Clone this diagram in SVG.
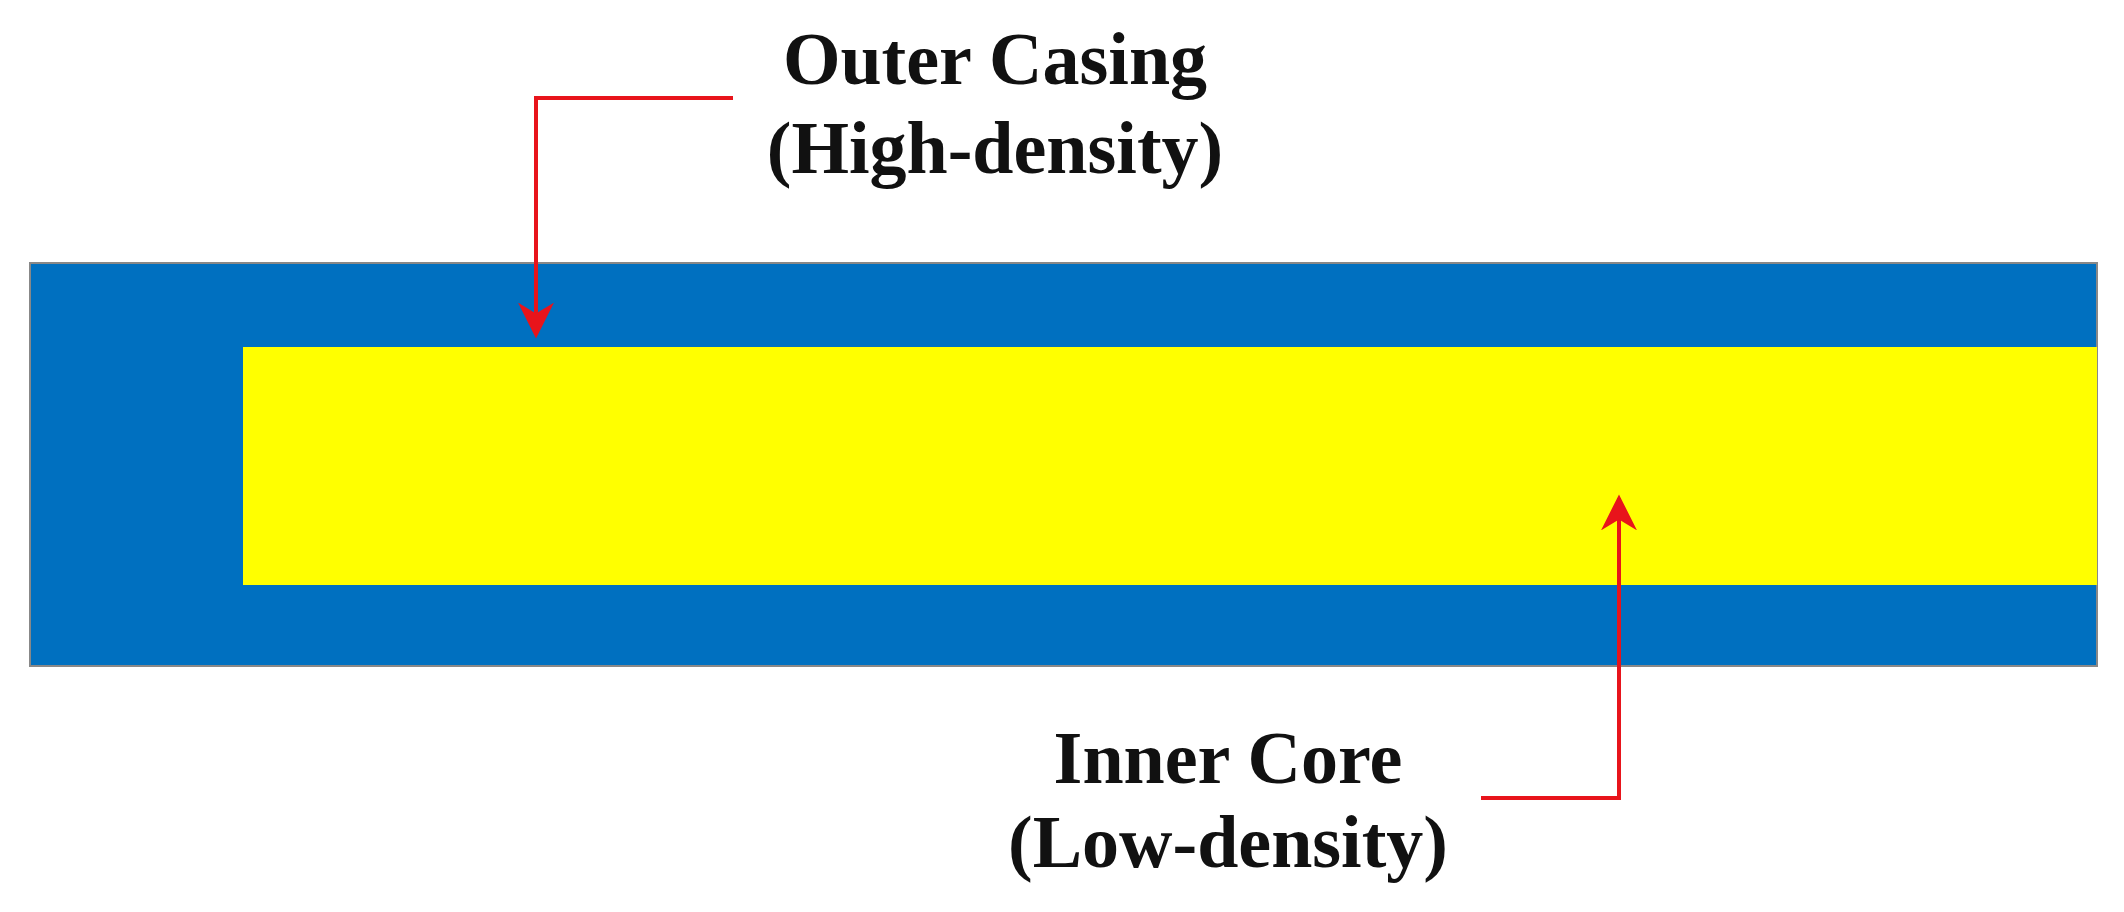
<svg xmlns="http://www.w3.org/2000/svg" width="2124" height="912" viewBox="0 0 2124 912">
<style>
text{font-family:"Liberation Serif",serif;font-weight:bold;font-size:74px;fill:#111;text-anchor:middle}
.c{fill:none;stroke:#e8141b;stroke-width:4}
</style>
<defs><marker id="a" viewBox="0 0 10 10" refX="9" refY="5" markerWidth="9" markerHeight="9" orient="auto"><path d="M0,0L10,5L0,10L3,5z" fill="#e8141b"/></marker></defs>
<rect width="2124" height="912" fill="#fff"/>
<g id="casing"><rect x="30" y="263" width="2067" height="403" fill="#0070c0" stroke="#888" stroke-width="2"/></g>
<g id="core"><rect x="243" y="347" width="1854" height="238" fill="#ffff00"/></g>
<g id="labels">
<text x="995" y="84">Outer Casing</text>
<text x="995" y="173">(High-density)</text>
<text x="1228" y="783">Inner Core</text>
<text x="1228" y="867">(Low-density)</text>
</g>
<g id="connectors">
<path class="c" d="M733,98H536V335" marker-end="url(#a)"/>
<path class="c" d="M1481,798H1619V498" marker-end="url(#a)"/>
</g>
</svg>
